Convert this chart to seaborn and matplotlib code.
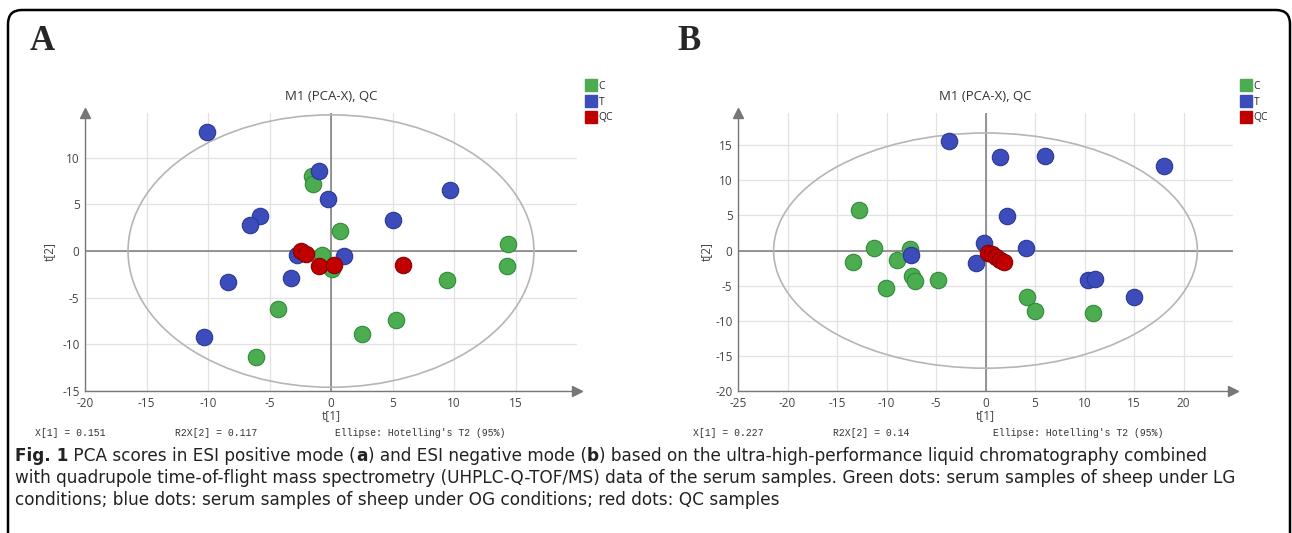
import matplotlib
matplotlib.use("Agg")
import matplotlib.pyplot as plt
import seaborn as sns
import pandas as pd
from matplotlib.patches import Ellipse, FancyBboxPatch
from matplotlib.lines import Line2D
from matplotlib.ticker import MultipleLocator
from matplotlib.transforms import IdentityTransform

# ---- data ----
# panel A (ESI positive)
a_c_t1 = [-1.52, -1.44, 0.7, -0.7, 0.05, -4.3, -6.12, 2.52, 14.43, 14.3, 9.42, 5.25]
a_c_t2 = [8.02, 7.23, 2.12, -0.43, -1.95, -6.23, -11.34, -8.85, 0.71, -1.62, -3.13, -7.34]
a_t_t1 = [-10.07, -1.0, -0.24, -5.77, -6.55, -2.79, 1.08, -8.4, -3.28, -10.3, 9.64, 5.0]
a_t_t2 = [12.74, 8.6, 5.6, 3.74, 2.77, -0.43, -0.58, -3.3, -2.88, -9.2, 6.58, 3.38]
a_qc_t1 = [-2.41, -2.06, -1.0, 0.24, 5.87]
a_qc_t2 = [0.03, -0.33, -1.62, -1.51, -1.51]

# panel B (ESI negative)
b_c_t1 = [-12.77, -11.28, -13.4, -8.96, -7.58, -10.07, -7.41, -7.11, -4.79, 4.24, 5.01, 10.87]
b_c_t2 = [5.76, 0.37, -1.62, -1.34, 0.19, -5.29, -3.67, -4.39, -4.14, -6.67, -8.62, -8.9]
b_t_t1 = [-3.71, -7.55, -0.17, -0.98, 1.48, 6.02, 18.04, 2.18, 4.14, 10.37, 11.1, 14.95]
b_t_t2 = [15.66, -0.57, 1.09, -1.71, 13.28, 13.47, 12.04, 4.9, 0.37, -4.14, -4.0, -6.57]
b_qc_t1 = [0.3, 0.7, 1.11, 1.44, 1.85]
b_qc_t2 = [-0.33, -0.5, -0.9, -1.29, -1.62]

groups = ["C", "T", "QC"]
colors = {"C": "#4cad50", "T": "#3c4dbb", "QC": "#c00000"}
edges = {"C": "#2f8a38", "T": "#2a3796", "QC": "#8a0000"}

a_stats = ["X[1] = 0.151", "R2X[2] = 0.117", "Ellipse: Hotelling's T2 (95%)"]
b_stats = ["X[1] = 0.227", "R2X[2] = 0.14", "Ellipse: Hotelling's T2 (95%)"]


def make_df(c1, c2, t1, t2, q1, q2):
    return pd.DataFrame({
        "t1": c1 + t1 + q1,
        "t2": c2 + t2 + q2,
        "group": ["C"] * len(c1) + ["T"] * len(t1) + ["QC"] * len(q1),
    })


df_a = make_df(a_c_t1, a_c_t2, a_t_t1, a_t_t2, a_qc_t1, a_qc_t2)
df_b = make_df(b_c_t1, b_c_t2, b_t_t1, b_t_t2, b_qc_t1, b_qc_t2)

sns.set_style("white")
plt.rcParams["font.family"] = ["Open Sans", "DejaVu Sans"]
plt.rcParams["axes.unicode_minus"] = False

fig = plt.figure(figsize=(12.92, 5.33), dpi=100)

# outer frame with rounded corners (pixel coords)
frame = FancyBboxPatch((8, -30), 1282, 553, boxstyle="round,pad=0,rounding_size=14",
                       transform=IdentityTransform(), fill=False, edgecolor="black",
                       linewidth=1.8, figure=fig)
fig.patches.append(frame)


def pca_panel(rect, df, xlim, ylim, xticks, yticks, ell, label, lab_x, leg_x, stats, stat_x,
              ylab_x):
    ax = fig.add_axes(rect)
    ax.set_xlim(*xlim)
    ax.set_ylim(*ylim)

    for g in groups:
        sub = df[df["group"] == g]
        sns.scatterplot(data=sub, x="t1", y="t2", color=colors[g], edgecolor=edges[g],
                        linewidth=0.8, s=140, ax=ax, zorder=4, legend=False)

    ax.add_patch(Ellipse((0, 0), 2 * ell[0], 2 * ell[1], fill=False,
                         edgecolor="#b5b5b5", linewidth=1.2, zorder=3))
    ax.axhline(0, color="#7a7a7a", lw=1.1, zorder=2)
    ax.axvline(0, color="#7a7a7a", lw=1.1, zorder=2)

    ax.set_xticks(xticks)
    ax.set_yticks(yticks)
    ax.xaxis.set_minor_locator(MultipleLocator(2.5))
    ax.yaxis.set_minor_locator(MultipleLocator(2.5))
    ax.grid(True, which="major", color="#e2e2e2", lw=0.9, zorder=1)
    ax.tick_params(which="major", direction="inout", length=5, width=0.9, color="#777777",
                   labelsize=8.5, labelcolor="#444444", pad=1.5)
    ax.tick_params(which="minor", direction="inout", length=3, width=0.8, color="#777777")
    for s in ["top", "right"]:
        ax.spines[s].set_visible(False)
    for s in ["left", "bottom"]:
        ax.spines[s].set_color("#777777")
        ax.spines[s].set_linewidth(1.0)
    # arrows at the axis ends
    ax.plot(0, 1, marker="^", color="#777777", markersize=7, transform=ax.transAxes,
            clip_on=False)
    ax.plot(1, 0, marker=">", color="#777777", markersize=7, transform=ax.transAxes,
            clip_on=False)

    ax.set_xlabel("t[1]", fontsize=8.5, color="#444444", labelpad=0)
    ax.set_ylabel("t[2]", fontsize=8.5, color="#444444")
    ax.yaxis.set_label_coords(ylab_x, 0.5)
    ax.set_title("M1 (PCA-X), QC", fontsize=9.5, color="#333333", pad=9)

    handles = [Line2D([], [], marker="s", linestyle="", markersize=9,
                      markerfacecolor=colors[g], markeredgecolor=colors[g]) for g in groups]
    fig.legend(handles, groups, loc="upper left", bbox_to_anchor=(leg_x, 1 - 81 / 533),
               frameon=False, fontsize=7.5, handlelength=0.7, handletextpad=0.4,
               labelspacing=0.45, borderpad=0, borderaxespad=0)

    fig.text(lab_x, 1 - 42 / 533, label, fontsize=25, fontweight="bold",
             family="Liberation Serif", va="center", ha="left")

    for txt, xp in zip(stats, stat_x):
        fig.text(xp / 1292, 1 - 433 / 533, txt, fontsize=7, family="Liberation Mono",
                 color="#333333", va="center", ha="left")
    return ax


top = 1 - 113 / 533
bottom = 1 - 391 / 533
pca_panel([85 / 1292, bottom, (577 - 85) / 1292, top - bottom], df_a,
          (-20, 20), (-15, 14.8), list(range(-20, 20, 5)), list(range(-15, 15, 5)),
          (16.5, 14.6), "A", 30 / 1292, 587 / 1292, a_stats, [35, 175, 335], -0.06)
pca_panel([738 / 1292, bottom, (1233 - 738) / 1292, top - bottom], df_b,
          (-25, 25), (-20, 19.6), list(range(-25, 25, 5)), list(range(-20, 20, 5)),
          (21.4, 16.75), "B", 677 / 1292, 1242 / 1292, b_stats, [693, 833, 993], -0.05)

# caption with bold pieces
cap_font = ["DejaVu Sans"]
cap_lines = [
    [("Fig. 1", "bold"), (" PCA scores in ESI positive mode (", "normal"), ("a", "bold"),
     (") and ESI negative mode (", "normal"), ("b", "bold"),
     (") based on the ultra-high-performance liquid chromatography combined", "normal")],
    [("with quadrupole time-of-flight mass spectrometry (UHPLC-Q-TOF/MS) data of the serum "
      "samples. Green dots: serum samples of sheep under LG", "normal")],
    [("conditions; blue dots: serum samples of sheep under OG conditions; red dots: QC samples",
      "normal")],
]
cap_y = [456, 478, 500]

fig.canvas.draw()
renderer = fig.canvas.get_renderer()
for line, yp in zip(cap_lines, cap_y):
    xp = 15
    for txt, wt in line:
        t = fig.text(xp / 1292, 1 - yp / 533, txt, fontsize=12.2, fontweight=wt,
                     family=cap_font, color="#222222", va="center", ha="left")
        xp = t.get_window_extent(renderer).x1

fig.savefig("out.png", dpi=100)
